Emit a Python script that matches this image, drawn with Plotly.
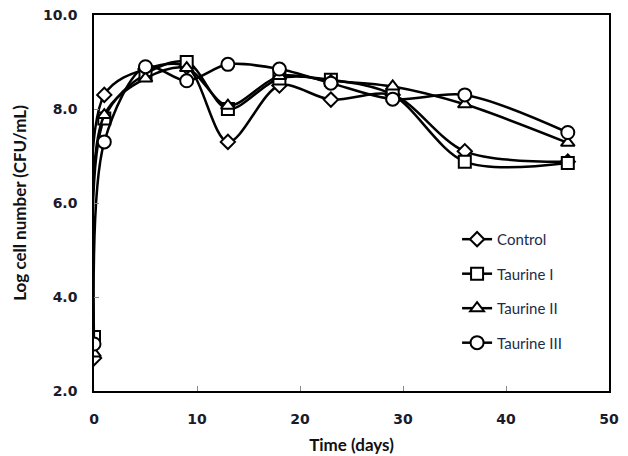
import plotly.graph_objects as go

days = [0, 1, 5, 9, 13, 18, 23, 29, 36, 46]
control = [2.70, 8.30, 8.85, 8.90, 7.30, 8.50, 8.20, 8.30, 7.10, 6.88]
taurine_1 = [3.15, 7.80, 8.75, 9.00, 8.00, 8.65, 8.62, 8.30, 6.88, 6.85]
taurine_2 = [2.80, 7.87, 8.65, 8.87, 8.07, 8.70, 8.60, 8.48, 8.10, 7.28]
taurine_3 = [3.00, 7.30, 8.90, 8.60, 8.95, 8.85, 8.55, 8.21, 8.30, 7.50]

series = [
    ("Control", control, "diamond", 11),
    ("Taurine I", taurine_1, "square", 12),
    ("Taurine II", taurine_2, "triangle-up", 12),
    ("Taurine III", taurine_3, "circle", 13),
]

fig = go.Figure()
for i, (name, vals, sym, sz) in enumerate(series):
    fig.add_trace(go.Scatter(
        x=days, y=vals, name=name, mode="lines+markers",
        line=dict(color="black", width=2.5, shape="spline", smoothing=0.9),
        marker=dict(symbol=sym, size=sz, color="white",
                    line=dict(color="black", width=2)),
        legendgroup=f"g{i}",
    ))

tickfont = dict(family="DejaVu Sans", size=14, color="#1a1a2a", weight="bold")
titlefont = dict(family="Lato", size=17, color="#111111", weight="bold")

fig.update_layout(
    width=628, height=456,
    margin=dict(l=94, r=19, t=15, b=65),
    paper_bgcolor="white", plot_bgcolor="white",
    showlegend=True,
    legend=dict(
        x=0.705, y=0.447, xanchor="left", yanchor="top",
        font=dict(family="Lato", size=15, color="#1c2a4a"),
        bgcolor="rgba(0,0,0,0)", tracegroupgap=12,
    ),
    xaxis=dict(
        range=[0, 50], dtick=10, tick0=0, automargin=False,
        showline=True, linecolor="black", linewidth=1.5, mirror=True,
        ticks="inside", ticklen=5, tickcolor="#888888",
        showgrid=False, zeroline=False,
        tickfont=tickfont, ticklabelstandoff=14,
        title=dict(text="Time (days)", font=titlefont, standoff=14),
    ),
    yaxis=dict(
        range=[2, 10], dtick=2, tick0=2, tickformat=".1f", automargin=False,
        showline=True, linecolor="black", linewidth=1.5, mirror=True,
        ticks="inside", ticklen=5, tickcolor="#888888",
        showgrid=False, zeroline=False,
        tickfont=tickfont, ticklabelstandoff=12,
        title=dict(text="Log cell number (CFU/mL)", font=titlefont, standoff=12),
    ),
)

fig.write_html("out.html")
